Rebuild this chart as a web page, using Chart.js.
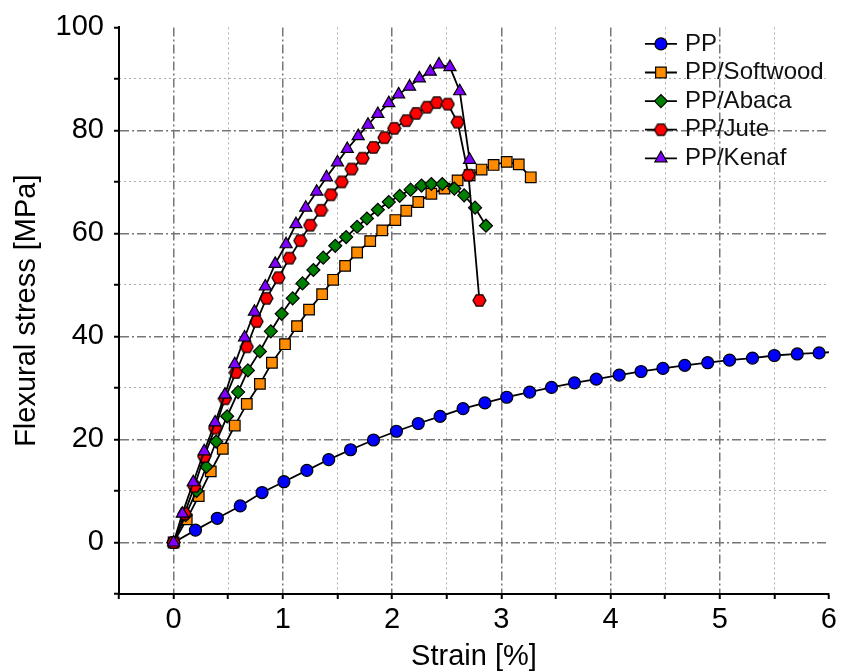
<!DOCTYPE html>
<html lang="en">
<head>
<meta charset="UTF-8">
<title>Flexural stress vs strain</title>
<script src="https://cdn.jsdelivr.net/npm/chart.js"></script>
<style>
  html, body { margin: 0; padding: 0; background: #fff; }
</style>
</head>
<body>
<canvas id="flexChart" width="841" height="671"></canvas>
<script>
// values
const ppStrain = [0, 0.20, 0.40, 0.61, 0.81, 1.01, 1.22, 1.42, 1.62, 1.83, 2.04, 2.24, 2.44, 2.65, 2.85, 3.05, 3.26, 3.46, 3.67, 3.87, 4.08, 4.28, 4.48, 4.68, 4.89, 5.09, 5.30, 5.50, 5.71, 5.91, 6.11];
const ppStress = [0, 2.4, 4.7, 7.1, 9.7, 11.8, 14.0, 16.1, 18.0, 19.9, 21.6, 23.1, 24.5, 26.0, 27.1, 28.2, 29.2, 30.1, 31.0, 31.7, 32.5, 33.2, 33.8, 34.4, 34.9, 35.4, 35.8, 36.3, 36.6, 36.8, 37.1];

const softwoodStrain = [0, 0.12, 0.23, 0.34, 0.45, 0.56, 0.67, 0.79, 0.90, 1.02, 1.13, 1.24, 1.36, 1.46, 1.57, 1.68, 1.80, 1.91, 2.03, 2.13, 2.24, 2.36, 2.48, 2.60, 2.71, 2.82, 2.93, 3.05, 3.16, 3.27];
const softwoodStress = [0, 4.5, 9.0, 13.8, 18.2, 22.7, 26.9, 30.8, 34.9, 38.5, 42.0, 45.2, 48.2, 51.0, 53.7, 56.3, 58.5, 60.6, 62.6, 64.4, 66.1, 67.7, 68.7, 70.3, 71.3, 72.4, 73.3, 73.9, 73.4, 70.9];

const abacaStrain = [0, 0.11, 0.21, 0.30, 0.39, 0.49, 0.59, 0.68, 0.79, 0.89, 0.99, 1.09, 1.18, 1.28, 1.37, 1.48, 1.58, 1.68, 1.77, 1.87, 1.97, 2.07, 2.17, 2.27, 2.36, 2.46, 2.57, 2.66, 2.76, 2.86];
const abacaStress = [0, 5.3, 10.0, 14.7, 19.6, 24.5, 29.2, 33.4, 37.1, 41.0, 44.4, 47.4, 50.3, 52.9, 55.3, 57.6, 59.3, 61.3, 62.9, 64.6, 66.1, 67.3, 68.5, 69.3, 69.6, 69.6, 68.7, 67.4, 65.0, 61.5];

const juteStrain = [0, 0.10, 0.19, 0.28, 0.38, 0.47, 0.57, 0.67, 0.76, 0.85, 0.96, 1.06, 1.16, 1.25, 1.35, 1.44, 1.54, 1.63, 1.73, 1.83, 1.93, 2.02, 2.13, 2.22, 2.32, 2.41, 2.51, 2.60, 2.70, 2.80];
const juteStress = [0, 5.6, 10.9, 16.7, 22.2, 27.9, 33.0, 38.0, 42.9, 47.4, 51.4, 55.2, 58.6, 61.6, 64.5, 67.5, 70.0, 72.5, 74.6, 76.7, 78.6, 80.4, 81.9, 83.3, 84.5, 85.4, 85.1, 81.6, 71.3, 47.0];

const kenafStrain = [0, 0.08, 0.18, 0.28, 0.38, 0.47, 0.56, 0.65, 0.74, 0.84, 0.93, 1.03, 1.12, 1.21, 1.31, 1.40, 1.50, 1.59, 1.69, 1.78, 1.87, 1.97, 2.06, 2.16, 2.25, 2.35, 2.43, 2.53, 2.62, 2.71];
const kenafStress = [0, 5.6, 11.7, 17.7, 23.3, 28.7, 34.6, 39.8, 44.8, 49.7, 54.1, 57.9, 61.8, 65.0, 68.1, 70.9, 73.8, 76.4, 78.9, 81.1, 83.2, 85.3, 87.0, 88.5, 90.1, 91.4, 92.8, 92.3, 87.6, 74.3];

const seriesNames = ['PP', 'PP/Softwood', 'PP/Abaca', 'PP/Jute', 'PP/Kenaf'];

const FONT = '"Liberation Sans", Arial, sans-serif';
Chart.defaults.font.family = FONT;
Chart.defaults.color = '#000';

// no hexagon in Chart.js, so make one as an image
function hexMarker(r, fill) {
  const c = document.createElement('canvas');
  const s = Math.ceil(r * 2 + 2);
  c.width = s; c.height = s;
  const g = c.getContext('2d');
  g.beginPath();
  for (let k = 0; k < 6; k++) {
    const a = Math.PI / 3 * k;
    g.lineTo(s / 2 + r * Math.cos(a), s / 2 + r * Math.sin(a));
  }
  g.closePath();
  g.fillStyle = fill;
  g.fill();
  g.strokeStyle = '#000';
  g.lineWidth = 1.2;
  g.stroke();
  return c;
}

const toPoints = (xs, ys) => xs.map((x, i) => ({ x: x, y: ys[i] }));

function series(label, xs, ys, color, style, radius, order) {
  return {
    label: label,
    data: toPoints(xs, ys),
    borderColor: '#000',
    borderWidth: 1.8,
    backgroundColor: color,
    pointBackgroundColor: color,
    pointBorderColor: '#000',
    pointBorderWidth: 1.2,
    pointStyle: style,
    pointRadius: radius,
    tension: 0,
    fill: false,
    order: order
  };
}

const near = (v, step) => Math.abs(v / step - Math.round(v / step)) < 1e-6;
const CLEAR = 'rgba(0,0,0,0)';

// major grid = dash-dot, minor grid = dotted (separate scales so each gets its own dash)
const majorX = ctx => (ctx.tick && near(ctx.tick.value, 1) && ctx.tick.value < 6) ? '#777777' : CLEAR;
const minorX = ctx => (ctx.tick && !near(ctx.tick.value, 1) && ctx.tick.value > -0.5) ? '#adadad' : CLEAR;
const majorY = ctx => (ctx.tick && near(ctx.tick.value, 20) && ctx.tick.value < 100) ? '#777777' : CLEAR;
const minorY = ctx => (ctx.tick && !near(ctx.tick.value, 20) && ctx.tick.value > -10) ? '#adadad' : CLEAR;

const lineLegend = {
  id: 'lineLegend',
  afterDatasetsDraw(chart) {
    const { ctx, chartArea } = chart;
    const x0 = chartArea.right - 184;
    ctx.save();
    chart.data.datasets.forEach((ds, i) => {
      const y = chartArea.top + 16.5 + i * 28.6;
      ctx.strokeStyle = '#000';
      ctx.lineWidth = 1.8;
      ctx.beginPath();
      ctx.moveTo(x0, y);
      ctx.lineTo(x0 + 32, y);
      ctx.stroke();
      ctx.fillStyle = ds.pointBackgroundColor;
      ctx.strokeStyle = '#000';
      ctx.lineWidth = 1.2;
      Chart.helpers.drawPoint(ctx, { pointStyle: ds.pointStyle, radius: ds.pointRadius, rotation: 0, borderWidth: 1.2 }, x0 + 16, y);
      ctx.fillStyle = '#111';
      ctx.font = '24px ' + FONT;
      ctx.textBaseline = 'middle';
      ctx.textAlign = 'left';
      ctx.fillText(ds.label, x0 + 40, y);
    });
    ctx.restore();
  }
};

const ppSet = series(seriesNames[0], ppStrain, ppStress, '#0000ff', 'circle', 6, 5);
ppSet.clip = { left: 10, top: 10, right: 0, bottom: 10 };

new Chart(document.getElementById('flexChart'), {
  type: 'line',
  data: {
    datasets: [
      ppSet,
      series(seriesNames[1], softwoodStrain, softwoodStress, '#ff8c00', 'rect', 7.5, 4),
      series(seriesNames[2], abacaStrain, abacaStress, '#008000', 'rectRot', 6.5, 3),
      series(seriesNames[3], juteStrain, juteStress, '#ff0000', hexMarker(6.5, '#ff0000'), 6.5, 2),
      series(seriesNames[4], kenafStrain, kenafStress, '#8000ff', 'triangle', 7, 1)
    ]
  },
  options: {
    responsive: false,
    animation: false,
    events: [],
    layout: { padding: { top: 24, right: 9, left: 0, bottom: 0 } },
    plugins: {
      legend: { display: false },
      tooltip: { enabled: false }
    },
    scales: {
      x: {
        type: 'linear',
        position: 'bottom',
        min: -0.5,
        max: 6,
        afterFit: s => { s.height = 77; },
        ticks: {
          stepSize: 0.5,
          autoSkip: false,
          maxRotation: 0,
          padding: 4,
          color: '#000',
          font: { size: 29 },
          callback: v => near(v, 1) ? Math.round(v) : ''
        },
        grid: { color: majorX, lineWidth: 1.5, tickColor: '#000', tickWidth: 2, tickLength: 5 },
        border: { display: true, color: '#000', width: 2, dash: [9, 3, 2, 3] },
        title: {
          display: true,
          text: 'Strain [%]',
          color: '#000',
          font: { size: 29, lineHeight: 1 },
          padding: { top: 0, bottom: 0 }
        }
      },
      xMinor: {
        type: 'linear',
        position: 'bottom',
        min: -0.5,
        max: 6,
        ticks: { display: false, stepSize: 0.5 },
        grid: { drawTicks: false, color: minorX, lineWidth: 1 },
        border: { display: false, dash: [2, 3] }
      },
      y: {
        type: 'linear',
        position: 'left',
        min: -10,
        max: 100,
        afterFit: s => { s.width = 119; },
        ticks: {
          stepSize: 10,
          autoSkip: false,
          padding: 10,
          color: '#000',
          font: { size: 29 },
          callback: v => near(v, 20) ? Math.round(v) : ''
        },
        grid: { color: majorY, lineWidth: 1.5, tickColor: '#000', tickWidth: 2, tickLength: 5 },
        border: { display: true, color: '#000', width: 2, dash: [9, 3, 2, 3] },
        title: {
          display: true,
          text: 'Flexural stress [MPa]',
          color: '#000',
          font: { size: 29, lineHeight: 1.2 },
          padding: { top: 10, bottom: 0 }
        }
      },
      yMinor: {
        type: 'linear',
        position: 'left',
        min: -10,
        max: 100,
        ticks: { display: false, stepSize: 10 },
        grid: { drawTicks: false, color: minorY, lineWidth: 1 },
        border: { display: false, dash: [2, 3] }
      }
    }
  },
  plugins: [lineLegend]
});
</script>
</body>
</html>
